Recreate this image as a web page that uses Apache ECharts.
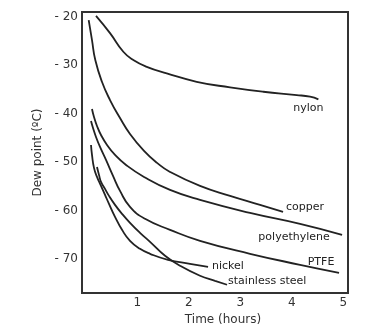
<!DOCTYPE html>
<html><head><meta charset="utf-8">
<script src="https://cdn.jsdelivr.net/npm/echarts@6/dist/echarts.min.js"></script>
<style>html,body{margin:0;padding:0;background:#fff}#c{width:383px;height:335px}</style>
</head><body><div id="c"></div>
<script>
// ---- data (hours, dew point in °C) ----
const xTicks = [1, 2, 3, 4, 5];
const yTicks = [-70, -60, -50, -40, -30, -20];

const nylonTime = [0.198, 0.470, 0.728, 0.922, 1.183, 1.571, 2.153, 2.800, 3.447, 4.095, 4.353, 4.515];
const nylonDew  = [-19.79, -23.36, -27.21, -28.92, -30.31, -31.67, -33.40, -34.55, -35.46, -36.14, -36.49, -37.02];

const copperTime = [0.056, 0.120, 0.184, 0.315, 0.470, 0.664, 0.858, 1.130, 1.383, 1.635, 2.217, 2.800, 3.382, 3.829];
const copperDew  = [-20.68, -24.80, -28.92, -33.46, -37.17, -40.88, -44.18, -47.68, -50.15, -52.01, -54.89, -56.95, -58.81, -60.25];

const polyTime = [0.120, 0.159, 0.217, 0.295, 0.412, 0.567, 0.781, 1.130, 1.635, 2.217, 3.188, 4.159, 4.975];
const polyDew  = [-39.02, -40.67, -42.53, -44.39, -46.44, -48.50, -50.57, -53.04, -55.72, -57.78, -60.46, -62.73, -64.99];

const ptfeTime = [0.101, 0.140, 0.198, 0.276, 0.392, 0.528, 0.664, 0.858, 1.150, 1.635, 2.217, 3.188, 4.159, 4.916];
const ptfeDew  = [-41.50, -42.94, -44.79, -46.86, -49.54, -52.83, -55.92, -59.22, -61.69, -63.96, -66.23, -68.91, -71.18, -72.83];

const nickelTime = [0.101, 0.120, 0.159, 0.217, 0.295, 0.373, 0.450, 0.567, 0.703, 0.858, 1.052, 1.247, 1.596, 2.023, 2.373];
const nickelDew  = [-46.44, -48.50, -51.18, -53.04, -54.89, -56.75, -58.60, -61.28, -63.96, -66.23, -67.88, -68.91, -70.15, -70.97, -71.59];

const steelTime = [0.217, 0.256, 0.295, 0.373, 0.450, 0.567, 0.703, 0.858, 1.052, 1.247, 1.538, 1.829, 2.217, 2.509, 2.742];
const steelDew  = [-50.98, -52.62, -54.07, -55.51, -56.95, -58.81, -60.66, -62.52, -64.58, -66.43, -69.32, -71.38, -73.44, -74.48, -75.30];

const seriesNames = ['nylon', 'copper', 'polyethylene', 'PTFE', 'nickel', 'stainless steel'];
const seriesTimes = [nylonTime, copperTime, polyTime, ptfeTime, nickelTime, steelTime];
const seriesDews  = [nylonDew, copperDew, polyDew, ptfeDew, nickelDew, steelDew];

// ---- styling (label placement relative to line ends, in pixels) ----
const labelStyle = [
  {offset: [-10, 9], align: 'center'},
  {offset: [22, -5], align: 'center'},
  {offset: [-48, 2], align: 'center'},
  {offset: [-18, -11], align: 'center'},
  {offset: [4, -1], align: 'left'},
  {offset: [1, -4], align: 'left'}
];
const FONT = 'DejaVu Sans';
const INK = '#222';

const series = seriesNames.map((name, i) => {
  const t = seriesTimes[i], d = seriesDews[i];
  return {
    name, type: 'line', smooth: 0.5, showSymbol: false, symbol: 'none',
    lineStyle: {color: INK, width: 1.8}, animation: false, silent: true,
    data: t.map((v, k) => [v, d[k]]),
    markPoint: {
      symbol: 'circle', symbolSize: 1, itemStyle: {color: 'transparent'}, silent: true, animation: false,
      data: [{
        coord: [t[t.length - 1], d[d.length - 1]],
        label: {show: true, formatter: name, position: 'inside', offset: labelStyle[i].offset,
          align: labelStyle[i].align, verticalAlign: 'middle',
          color: INK, fontSize: 11, fontFamily: FONT}
      }]
    }
  };
});

const chart = echarts.init(document.getElementById('c'), null, {renderer: 'canvas'});
chart.setOption({
  animation: false,
  backgroundColor: '#fff',
  grid: {left: 82, top: 12, right: 35, bottom: 42, show: true, borderColor: '#333', borderWidth: 2, containLabel: false},
  xAxis: {
    type: 'value', min: -0.074, max: 5.09,
    name: 'Time (hours)', nameLocation: 'middle', nameGap: 17,
    nameTextStyle: {fontFamily: FONT, fontSize: 12, color: '#333', padding: [0, 0, 0, 16]},
    axisLine: {show: false}, axisTick: {show: false}, splitLine: {show: false},
    axisLabel: {customValues: xTicks, fontFamily: FONT, fontSize: 12, color: '#333', margin: 4}
  },
  yAxis: {
    type: 'value', min: -77, max: -19,
    name: 'Dew point (ºC)', nameLocation: 'middle', nameGap: 37,
    nameTextStyle: {fontFamily: FONT, fontSize: 12, color: '#333'},
    axisLine: {show: false}, axisTick: {show: false}, splitLine: {show: false},
    axisLabel: {customValues: yTicks, fontFamily: FONT, fontSize: 12, color: '#333', margin: 4,
      formatter: v => '- ' + Math.abs(v)}
  },
  series
});
</script>
</body></html>
